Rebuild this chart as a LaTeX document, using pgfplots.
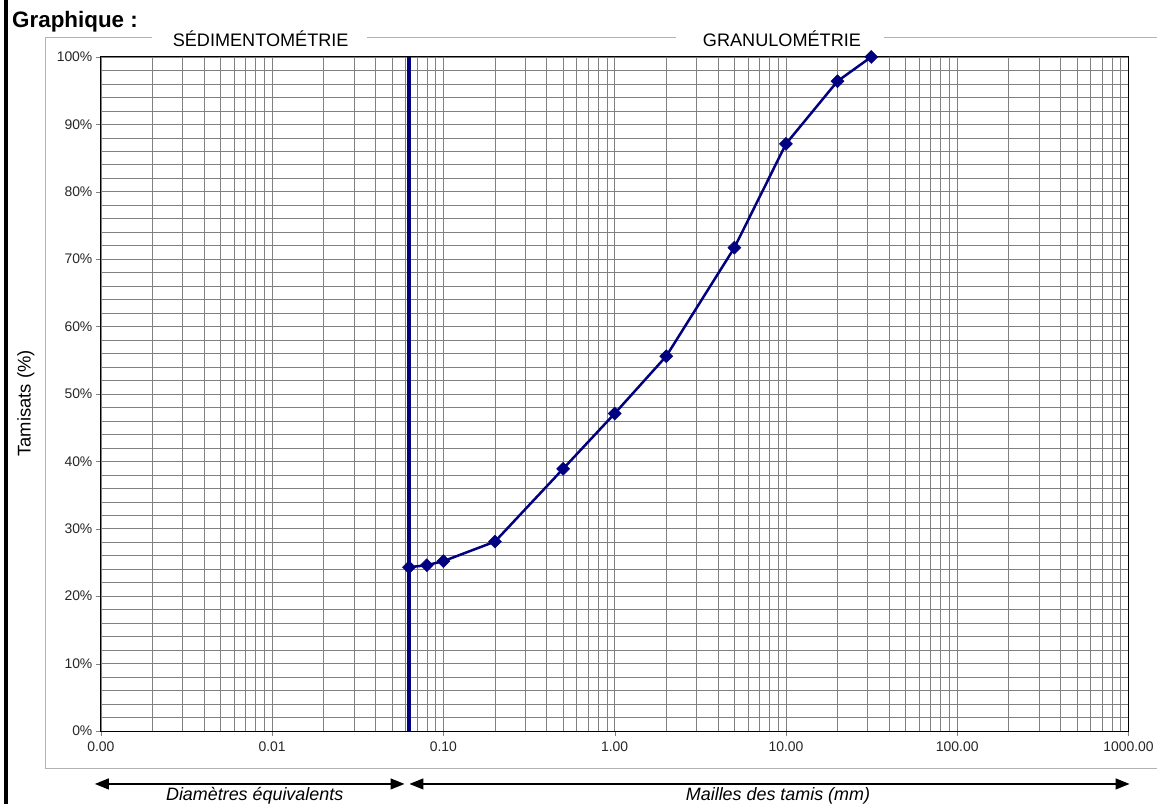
\documentclass[border=0pt]{standalone}
\usepackage{pgfplots}
\pgfplotsset{compat=1.18}
\usepackage{fontspec}
\setmainfont{Liberation Sans}
\usetikzlibrary{arrows.meta}
\definecolor{navy}{RGB}{0,0,128}

\begin{document}
\begin{tikzpicture}
\begin{scope}[x=1bp,y=1bp]
\useasboundingbox (0,0) rectangle (1157,805);
% cadre du graphique
\draw[black!30, line width=1] (152,767) -- (46,767) -- (46,35) -- (1165,35);
\draw[black!30, line width=1] (367,767) -- (677,767);
\draw[black!30, line width=1] (885,767) -- (1165,767);
\fill[black] (4,0) rectangle (8,805);
\node[anchor=base west, font=\bfseries\fontsize{22.5}{26}\selectfont, inner sep=0] at (12,777) {Graphique :};
\node[anchor=base, font=\fontsize{18.2}{21}\selectfont, inner sep=0] at (261,758) {SÉDIMENTOMÉTRIE};
\node[anchor=base, font=\fontsize{18.2}{21}\selectfont, inner sep=0] at (783,758) {GRANULOMÉTRIE};
\node[rotate=90, font=\fontsize{18.5}{22}\selectfont] at (26,401) {Tamisats (\%)};
\draw[{Triangle[length=14,width=11]}-{Triangle[length=14,width=11]}, line width=1.3] (95,20) -- (405,20);
\draw[{Triangle[length=14,width=11]}-{Triangle[length=14,width=11]}, line width=1.3] (410,20) -- (1131,20);
\node[anchor=base, font=\itshape\fontsize{18}{21}\selectfont, inner sep=0] at (255,3) {Diamètres équivalents};
\node[anchor=base, font=\itshape\fontsize{18}{21}\selectfont, inner sep=0] at (779,3) {Mailles des tamis (mm)};
\end{scope}

\begin{axis}[
  at={(101bp,73bp)}, anchor=south west,
  width=1029bp, height=675bp, scale only axis,
  xmode=log, xmin=0.001, xmax=1000,
  ymin=0, ymax=100,
  xtick={0.001,0.01,0.1,1,10,100,1000},
  xticklabels={0.00,0.01,0.10,1.00,10.00,100.00,1000.00},
  ytick={0,10,...,100},
  yticklabels={0\%,10\%,20\%,30\%,40\%,50\%,60\%,70\%,80\%,90\%,100\%},
  minor ytick={2,4,...,98},
  grid=both,
  major grid style={black!50, line width=0.6},
  minor grid style={black!50, line width=0.6},
  tick align=outside, tick pos=left,
  major tick length=5bp, minor tick length=0pt,
  tick style={black!50},
  axis line style={black, line width=0.9},
  ticklabel style={font=\fontsize{14}{16}\selectfont, text=black!85},
  xticklabel style={yshift=-2bp},
  clip=false,
]
% limite 0.063 mm
\addplot[navy, line width=4.5bp] coordinates {(0.063,0) (0.063,100)};
% courbe granulometrique
\addplot[navy, line width=2.5bp, mark=square*, mark size=4.6bp,
  mark options={fill=navy, rotate=45, line width=0.5bp}] coordinates {
  (0.063,24.3) (0.08,24.6) (0.1,25.2) (0.2,28.1) (0.5,38.9)
  (1,47.1) (2,55.6) (5,71.7) (10,87.1) (20,96.4) (31.5,100)
};
\end{axis}
\end{tikzpicture}
\end{document}
